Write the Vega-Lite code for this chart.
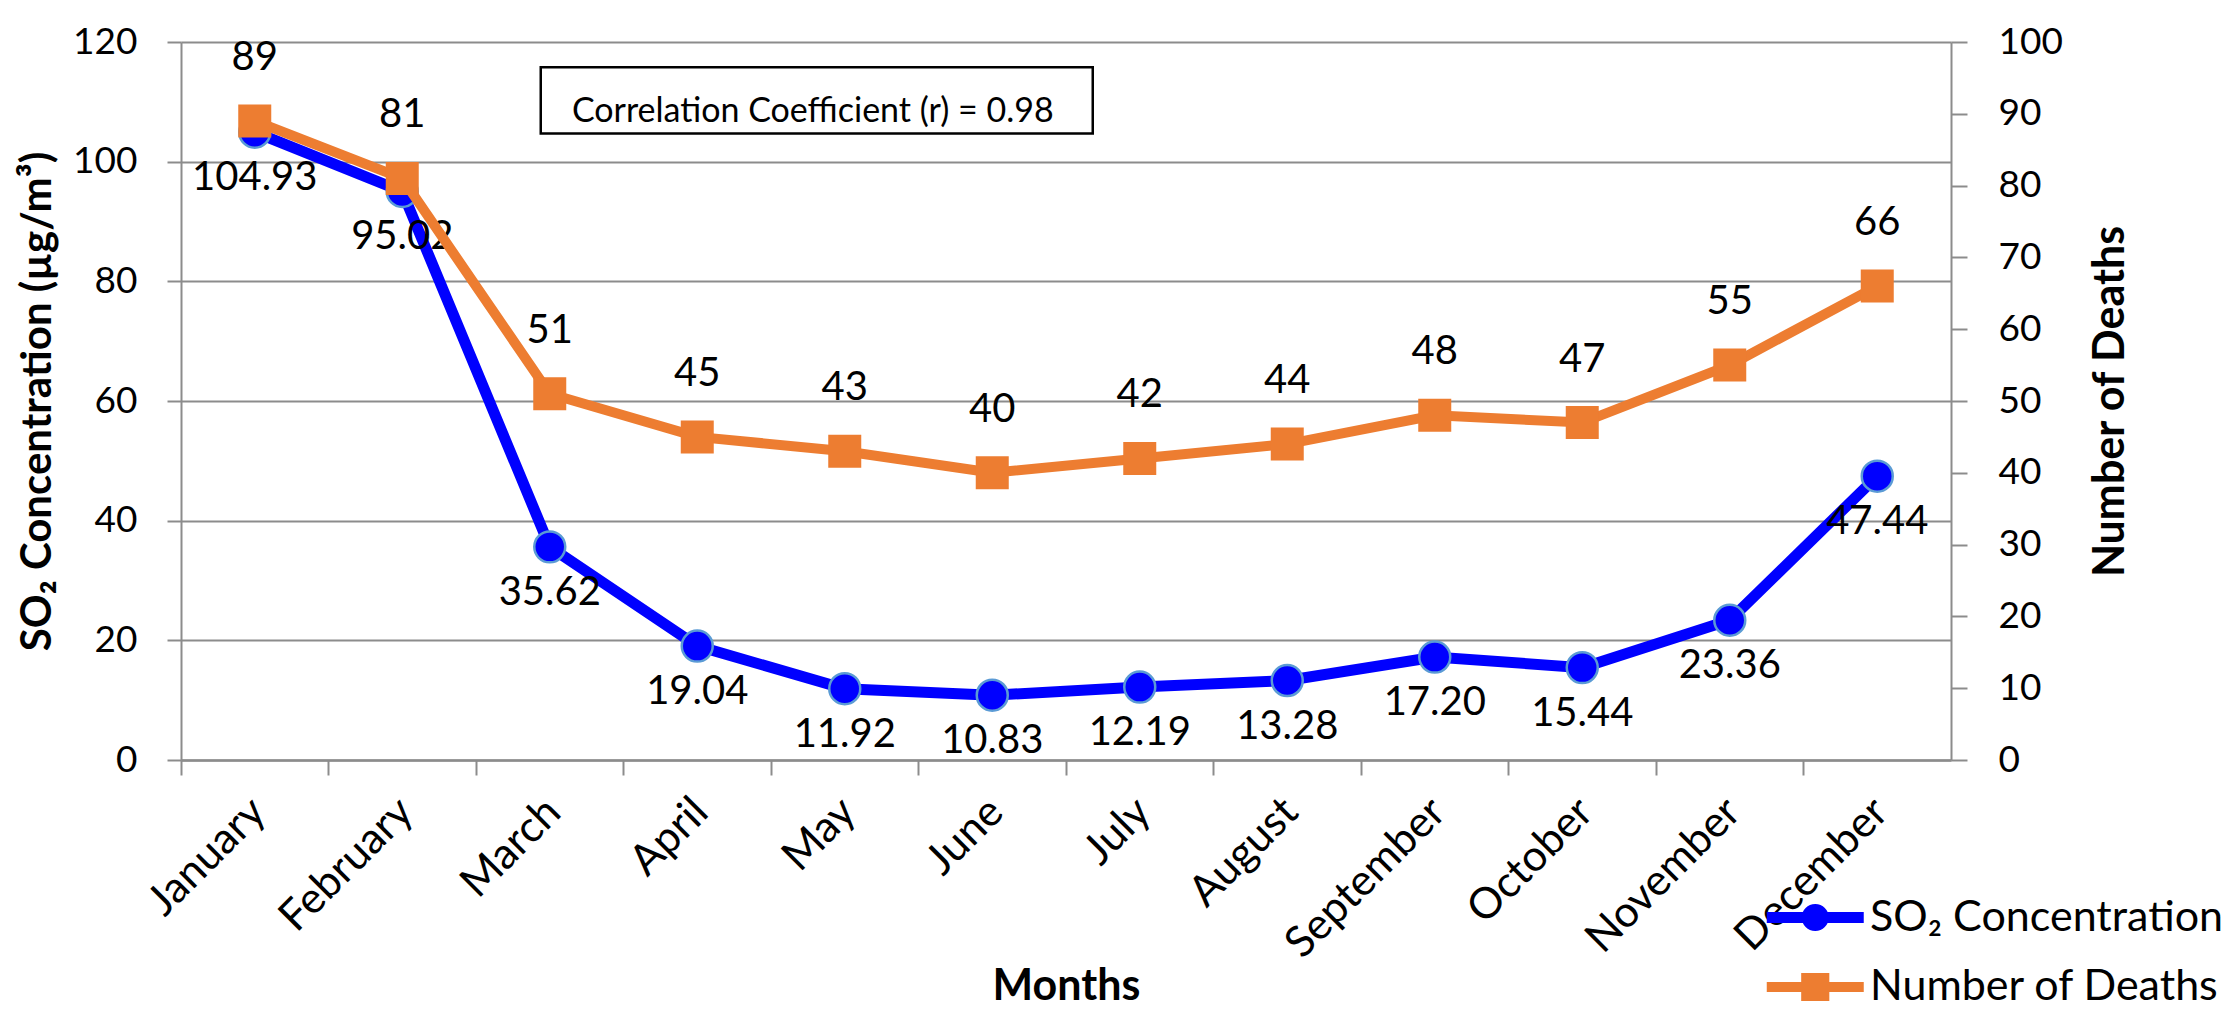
{
  "$schema": "https://vega.github.io/schema/vega-lite/v6.json",
  "description": "Monthly SO2 concentration and number of deaths, dual axis line chart.",
  "width": 1770,
  "height": 718,
  "autosize": {"type": "none"},
  "padding": {"left": 181, "top": 42, "right": 277, "bottom": 262},
  "background": "white",
  "config": {
    "font": "Lato",
    "view": {"stroke": null},
    "axis": {"labelColor": "black", "titleColor": "black", "domainColor": "#8c8c8c", "tickColor": "#8c8c8c", "domainWidth": 2, "tickWidth": 2}
  },
  "data": {
    "values": [
      {"Month": "January", "SO2": 104.93, "Deaths": 89},
      {"Month": "February", "SO2": 95.02, "Deaths": 81},
      {"Month": "March", "SO2": 35.62, "Deaths": 51},
      {"Month": "April", "SO2": 19.04, "Deaths": 45},
      {"Month": "May", "SO2": 11.92, "Deaths": 43},
      {"Month": "June", "SO2": 10.83, "Deaths": 40},
      {"Month": "July", "SO2": 12.19, "Deaths": 42},
      {"Month": "August", "SO2": 13.28, "Deaths": 44},
      {"Month": "September", "SO2": 17.20, "Deaths": 48},
      {"Month": "October", "SO2": 15.44, "Deaths": 47},
      {"Month": "November", "SO2": 23.36, "Deaths": 55},
      {"Month": "December", "SO2": 47.44, "Deaths": 66}
    ]
  },
  "encoding": {
    "x": {
      "field": "Month",
      "type": "nominal",
      "scale": {
        "domain": ["January", "February", "March", "April", "May", "June", "July", "August", "September", "October", "November", "December"],
        "paddingInner": 0,
        "paddingOuter": 0
      },
      "axis": {
        "title": "Months",
        "titleFontSize": 43,
        "titleFontWeight": "bold",
        "titleBaseline": "middle",
        "titleY": 226,
        "labelAngle": -45,
        "labelAlign": "right",
        "labelBaseline": "middle",
        "labelFontSize": 43,
        "labelLimit": 0,
        "labelPadding": 30,
        "labelOffset": 4,
        "tickSize": 15,
        "bandPosition": 0,
        "domainWidth": 2.5,
        "grid": false
      }
    }
  },
  "layer": [
    {
      "encoding": {
        "y": {
          "field": "SO2",
          "type": "quantitative",
          "scale": {"domain": [0, 120], "nice": false},
          "axis": {
            "title": "SO₂ Concentration (µg/m³)",
            "titleFontSize": 42,
            "titleFontWeight": "bold",
            "titleBaseline": "middle",
            "titleX": -144,
            "values": [0, 20, 40, 60, 80, 100, 120],
            "labelFontSize": 37,
            "labelPadding": 30,
            "tickSize": 14,
            "grid": true,
            "gridColor": "#8c8c8c",
            "gridWidth": 2
          }
        }
      },
      "layer": [
        {
          "mark": {"type": "line", "color": "#0000ff", "strokeWidth": 11}
        },
        {
          "mark": {"type": "point", "shape": "circle", "filled": true, "fill": "#0000ff", "stroke": "#5b9bd5", "strokeWidth": 2.5, "size": 960, "opacity": 1}
        },
        {
          "mark": {"type": "text", "fontSize": 40, "dy": 46, "baseline": "middle", "color": "black"},
          "encoding": {"text": {"field": "SO2", "type": "quantitative", "format": ".2f"}}
        },
        {
          "transform": [{"filter": "datum.Month == 'March'"}],
          "mark": {"type": "rect", "fill": "white", "stroke": "black", "strokeWidth": 2.5, "xOffset": -9, "x2Offset": -47},
          "encoding": {
            "x2": {"datum": "July"},
            "y": {"datum": 115.8, "type": "quantitative"},
            "y2": {"datum": 104.7}
          }
        },
        {
          "transform": [{"filter": "datum.Month == 'May'"}],
          "mark": {"type": "text", "fontSize": 34, "dx": -32, "baseline": "middle", "color": "black"},
          "encoding": {
            "y": {"datum": 108.3, "type": "quantitative"},
            "text": {"value": "Correlation Coefficient (r) = 0.98"}
          }
        },
        {
          "data": {"values": [{"Series": "SO₂ Concentration"}, {"Series": "Number of Deaths"}]},
          "mark": {"type": "point", "filled": true, "clip": true, "opacity": 1},
          "encoding": {
            "x": {"datum": "January", "type": "nominal"},
            "y": {"datum": -50, "type": "quantitative"},
            "color": {
              "field": "Series",
              "type": "nominal",
              "scale": {"domain": ["SO₂ Concentration", "Number of Deaths"], "range": ["#0000ff", "#ed7d31"]},
              "legend": {
                "title": null,
                "orient": "none",
                "legendX": 1634,
                "legendY": 851,
                "padding": 0,
                "symbolSize": 2352,
                "symbolStrokeWidth": 0,
                "symbolOpacity": 1,
                "labelFontSize": 43,
                "labelOffset": 6,
                "labelLimit": 0,
                "rowPadding": 22.5
              }
            },
            "shape": {
              "field": "Series",
              "type": "nominal",
              "scale": {
                "domain": ["SO₂ Concentration", "Number of Deaths"],
                "range": [
                  "M-3,-0.23H1V0.23H-3Z M-0.44,0A0.56,0.56 0 1,1 -1.56,0A0.56,0.56 0 1,1 -0.44,0Z",
                  "M-3,-0.21H1V0.21H-3Z M-1.58,-0.58H-0.42V0.58H-1.58Z"
                ]
              },
              "legend": {
                "title": null,
                "orient": "none",
                "legendX": 1634,
                "legendY": 851,
                "padding": 0,
                "symbolSize": 2352,
                "symbolStrokeWidth": 0,
                "symbolOpacity": 1,
                "labelFontSize": 43,
                "labelOffset": 6,
                "labelLimit": 0,
                "rowPadding": 22.5
              }
            }
          }
        }
      ]
    },
    {
      "encoding": {
        "y": {
          "field": "Deaths",
          "type": "quantitative",
          "scale": {"domain": [0, 100], "nice": false},
          "axis": {
            "orient": "right",
            "title": "Number of Deaths",
            "titleFontSize": 43,
            "titleFontWeight": "bold",
            "titleAngle": 270,
            "titleBaseline": "middle",
            "titleX": 159,
            "values": [0, 10, 20, 30, 40, 50, 60, 70, 80, 90, 100],
            "labelFontSize": 37,
            "labelPadding": 31,
            "tickSize": 16,
            "grid": false
          }
        }
      },
      "layer": [
        {
          "mark": {"type": "line", "color": "#ed7d31", "strokeWidth": 10}
        },
        {
          "mark": {"type": "point", "shape": "square", "filled": true, "fill": "#ed7d31", "strokeWidth": 0, "size": 1089, "opacity": 1}
        },
        {
          "mark": {"type": "text", "fontSize": 40, "dy": -63, "baseline": "middle", "color": "black"},
          "encoding": {"text": {"field": "Deaths", "type": "quantitative"}}
        }
      ]
    }
  ],
  "resolve": {"scale": {"y": "independent"}}
}
